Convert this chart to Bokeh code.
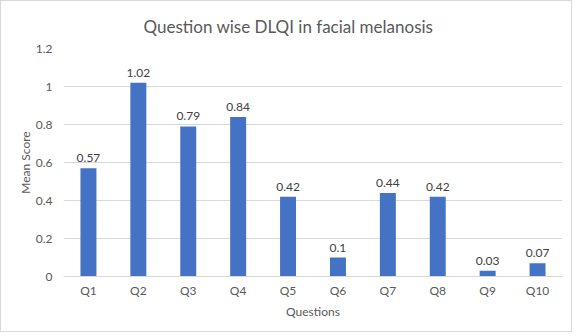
from bokeh.plotting import figure
from bokeh.layouts import column
from bokeh.models import ColumnDataSource, FixedTicker, CustomJSTickFormatter, FactorRange, Range1d
from bokeh.core.properties import value
from bokeh.embed import file_html
from bokeh.resources import INLINE

questions = ["Q1", "Q2", "Q3", "Q4", "Q5", "Q6", "Q7", "Q8", "Q9", "Q10"]
mean_scores = [0.57, 1.02, 0.79, 0.84, 0.42, 0.1, 0.44, 0.42, 0.03, 0.07]
y_ticks = [0, 0.2, 0.4, 0.6, 0.8, 1.0, 1.2]

FONT = "Lato"
src = ColumnDataSource(dict(q=questions, v=mean_scores, lbl=[str(v) for v in mean_scores]))

p = figure(width=570, height=330, x_range=FactorRange(*questions), y_range=Range1d(0, 1.2),
           output_backend="svg", toolbar_location=None,
           min_border_left=62, min_border_right=9, min_border_top=47, min_border_bottom=55)
p.title.text = "Question wise DLQI in facial melanosis"
p.title.align = "left"
p.title.text_font = FONT
p.title.text_font_size = "17px"
p.title.text_font_style = "normal"
p.title.text_color = "#595959"
p.title.offset = 80
p.title.standoff = 23

p.vbar(x="q", top="v", width=0.32, source=src, color="#4472C4", line_color=None)
p.text(x="q", y="v", text="lbl", source=src, text_align="center", text_baseline="bottom",
       y_offset=-6, text_font=value(FONT), text_font_size="12px", text_color="#404040")

p.outline_line_color = None
p.xgrid.grid_line_color = None
p.ygrid.grid_line_color = "#d9d9d9"
p.ygrid.ticker = FixedTicker(ticks=y_ticks)

p.yaxis.ticker = FixedTicker(ticks=y_ticks)
p.yaxis.formatter = CustomJSTickFormatter(code="return String(Math.round(tick*10)/10);")
p.yaxis.axis_line_color = None
p.yaxis.major_tick_line_color = None
p.yaxis.minor_tick_line_color = None
p.yaxis.major_label_standoff = 5
p.yaxis.axis_label = "Mean Score"
p.yaxis.axis_label_standoff = 0

p.xaxis.axis_line_color = "#d9d9d9"
p.xaxis.major_tick_line_color = None
p.xaxis.minor_tick_line_color = None
p.xaxis.major_label_standoff = 0
p.xaxis.axis_label = "Questions"
p.xaxis.axis_label_standoff = 3

for ax in (p.xaxis, p.yaxis):
    ax.major_label_text_font = FONT
    ax.major_label_text_font_size = "12px"
    ax.major_label_text_color = "#595959"
    ax.axis_label_text_font = FONT
    ax.axis_label_text_font_size = "12px"
    ax.axis_label_text_font_style = "normal"
    ax.axis_label_text_color = "#595959"

layout = column(p, styles={"border": "1px solid #d9d9d9"})

open("out.html", "w").write(file_html(layout, INLINE))
